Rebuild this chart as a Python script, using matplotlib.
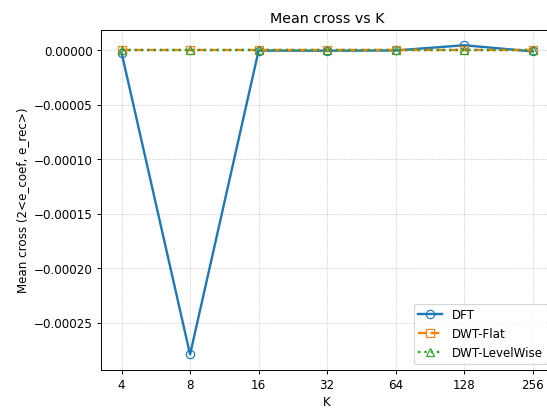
import numpy as np
import matplotlib.pyplot as plt

K = [4, 8, 16, 32, 64, 128, 256]
dft = [-2.0e-6, -2.79e-4, -2.0e-7, -3.0e-7, -1.0e-7, 4.7e-6, -1.0e-6]
dwt_flat = [0.0, 0.0, 0.0, 0.0, 0.0, 0.0, 0.0]
dwt_level = [0.0, 0.0, 0.0, 0.0, 0.0, 0.0, 0.0]

fig = plt.figure(figsize=(6.4, 4.8), dpi=547 / 6.4)
ax = fig.add_axes([0.1846, 0.0976, 0.827, 0.8292])

ax.plot(K, dft, marker='o', mfc='none', lw=2, ms=7, label='DFT')
ax.plot(K, dwt_flat, marker='s', mfc='none', lw=2, ls='--', ms=7, label='DWT-Flat')
ax.plot(K, dwt_level, marker='^', mfc='none', lw=2, ls=':', ms=7, label='DWT-LevelWise')

ax.set_xscale('log', base=2)
ax.set_xticks(K)
ax.set_xticklabels([str(k) for k in K])
ax.minorticks_off()
ax.set_xlabel('K')
ax.set_ylabel('Mean cross (2<e_coef, e_rec>)')
ax.set_title('Mean cross vs K')
ax.grid(True, ls='--', lw=0.5, alpha=0.7)
ax.legend(loc='lower right')

fig.savefig('out.png', dpi=547 / 6.4)
